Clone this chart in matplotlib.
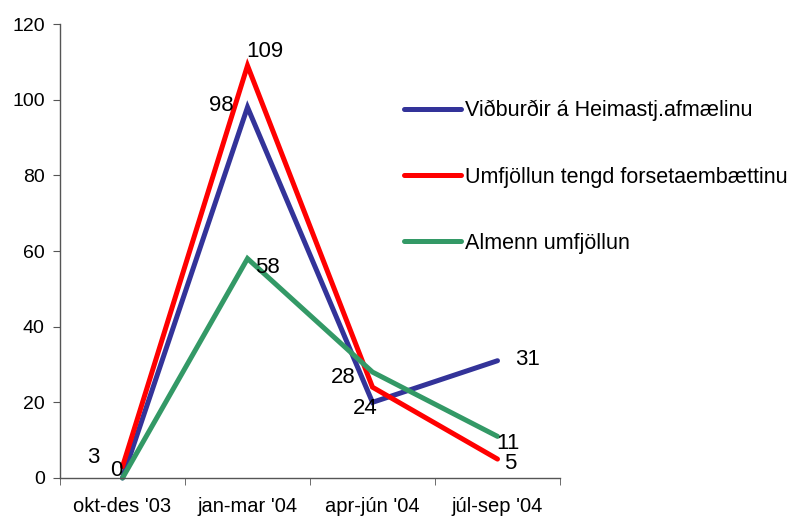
import matplotlib.pyplot as plt
from matplotlib.ticker import FixedLocator, NullFormatter

plt.rcParams.update({
    "font.family": ["Liberation Sans", "DejaVu Sans"],
    "font.size": 14,
})

periods = ["okt-des '03", "jan-mar '04", "apr-jún '04", "júl-sep '04"]
series_names = [
    "Viðburðir á Heimastj.afmælinu",
    "Umfjöllun tengd forsetaembættinu",
    "Almenn umfjöllun",
]
vidburdir = [0, 98, 20, 31]
forseti = [3, 109, 24, 5]
almenn = [0, 58, 28, 11]

colors = ["#333399", "#FF0000", "#339966"]

# label offsets in pixels (None = label hidden)
offsets = [
    [(-6, 8), (-26, 2), None, (30, 1)],
    [(-29, 9), (17, 14), (-7, -21), (13, -4)],
    [None, (20, -9), (-29, -5), (10, -7)],
]

fig = plt.figure(figsize=(7.87, 5.21), dpi=100)
ax = fig.add_axes([60 / 787, 1 - 478 / 521, 500 / 787, 454 / 521])

x = range(len(periods))
for vals, name, color, offs in zip([vidburdir, forseti, almenn], series_names, colors, offsets):
    ax.plot(x, vals, color=color, lw=3.6, label=name, solid_capstyle="round",
            solid_joinstyle="miter", clip_on=False)
    for xi, v, off in zip(x, vals, offs):
        if off is None:
            continue
        ax.annotate(str(v), (xi, v), xytext=off, textcoords="offset pixels",
                    ha="center", va="center", fontsize=16)

ax.set_xlim(-0.5, 3.5)
ax.set_ylim(0, 120)
ax.set_yticks(range(0, 121, 20))
ax.set_xticks(list(x))
ax.set_xticklabels(periods, fontsize=14.5)
ax.tick_params(axis="x", length=0, pad=14)
ax.xaxis.set_minor_locator(FixedLocator([-0.5, 0.5, 1.5, 2.5, 3.5]))
ax.xaxis.set_minor_formatter(NullFormatter())
ax.tick_params(axis="x", which="minor", length=5, color="#555555")
ax.tick_params(axis="y", length=5, color="#555555", pad=6)
for side in ["top", "right"]:
    ax.spines[side].set_visible(False)
for side in ["left", "bottom"]:
    ax.spines[side].set_color("#555555")
    ax.spines[side].set_linewidth(1.0)

fig.legend(loc="center left", bbox_to_anchor=(404 / 787, 1 - 177 / 521),
           frameon=False, handlelength=2.65, handletextpad=0.2,
           labelspacing=2.1, borderpad=0, borderaxespad=0, fontsize=15.5)

fig.savefig("out.png", dpi=100, facecolor="white")
